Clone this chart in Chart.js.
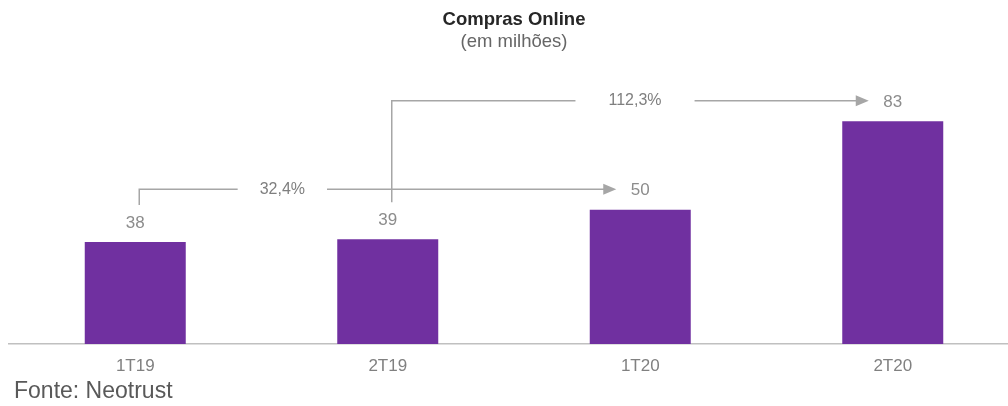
<!DOCTYPE html>
<html>
<head>
<meta charset="utf-8">
<script src="https://cdn.jsdelivr.net/npm/chart.js@4/dist/chart.umd.min.js"></script>
<style>
  html, body { margin: 0; padding: 0; background: #fff; overflow: hidden; width: 1008px; height: 406px; }
  #wrap { width: 1020px; height: 406px; position: relative; }
</style>
</head>
<body>
<div id="wrap"><canvas id="c"></canvas></div>
<script>
// ---- data ----
const categories = ['1T19', '2T19', '1T20', '2T20'];
const values = [38, 39, 50, 83];
const growthFrom = [0, 1];
const growthTo = [2, 3];
const growthLabels = ['32,4%', '112,3%'];
const titleText = 'Compras Online';
const subtitleText = '(em milhões)';
const sourceText = 'Fonte: Neotrust';

// ---- styles ----
const FONT = "'Liberation Sans', Arial, Helvetica, sans-serif";
const BAR_COLOR = '#7030A0';
const LINE_COLOR = '#a6a6a6';
const growthStyle = [
  { labelFrac: 0.30, gapPad: 22 },
  { labelFrac: 0.51, gapPad: 33 }
];

const annotationsPlugin = {
  id: 'annotations',
  afterDatasetsDraw(chart) {
    const ctx = chart.ctx;
    const meta = chart.getDatasetMeta(0);
    ctx.save();
    // value labels
    ctx.font = '17px ' + FONT;
    ctx.fillStyle = '#8c8c8c';
    ctx.textAlign = 'center';
    ctx.textBaseline = 'middle';
    meta.data.forEach((bar, i) => {
      ctx.fillText(String(values[i]), bar.x, bar.y - 19);
    });
    // growth arrows
    growthFrom.forEach((f, k) => {
      const a = meta.data[f], b = meta.data[growthTo[k]];
      const x0 = a.x + 4;
      const yBottom = a.y - 19 - 18;
      const yLine = b.y - 19 - 1.5;
      const xTip = b.x - 24;
      const st = growthStyle[k];
      ctx.font = '16px ' + FONT;
      const w = ctx.measureText(growthLabels[k]).width;
      const xt = x0 + st.labelFrac * (xTip - x0);
      const g0 = xt - w / 2 - st.gapPad, g1 = xt + w / 2 + st.gapPad;
      ctx.strokeStyle = LINE_COLOR;
      ctx.lineWidth = 1.5;
      ctx.beginPath();
      ctx.moveTo(x0, yBottom);
      ctx.lineTo(x0, yLine);
      ctx.lineTo(g0, yLine);
      ctx.moveTo(g1, yLine);
      ctx.lineTo(xTip - 10, yLine);
      ctx.stroke();
      ctx.fillStyle = LINE_COLOR;
      ctx.beginPath();
      ctx.moveTo(xTip, yLine);
      ctx.lineTo(xTip - 13, yLine - 5.5);
      ctx.lineTo(xTip - 13, yLine + 5.5);
      ctx.closePath();
      ctx.fill();
      ctx.fillStyle = '#7f7f7f';
      ctx.textAlign = 'center';
      ctx.textBaseline = 'middle';
      ctx.fillText(growthLabels[k], xt, yLine);
    });
    ctx.restore();
  },
  afterDraw(chart) {
    const ctx = chart.ctx;
    const ca = chart.chartArea;
    const cx = (ca.left + ca.right) / 2;
    ctx.save();
    ctx.textAlign = 'center';
    ctx.textBaseline = 'middle';
    ctx.font = 'bold 18.5px ' + FONT;
    ctx.fillStyle = '#262626';
    ctx.fillText(titleText, cx, 20);
    ctx.font = '18.5px ' + FONT;
    ctx.fillStyle = '#666666';
    ctx.fillText(subtitleText, cx, 42);
    ctx.textAlign = 'left';
    ctx.textBaseline = 'alphabetic';
    ctx.font = '23px ' + FONT;
    ctx.fillStyle = '#595959';
    ctx.fillText(sourceText, 14, 398);
    ctx.restore();
  }
};

new Chart(document.getElementById('c'), {
  type: 'bar',
  data: {
    labels: categories,
    datasets: [{
      data: values,
      backgroundColor: BAR_COLOR,
      borderWidth: 0,
      barPercentage: 0.4,
      categoryPercentage: 1.0
    }]
  },
  options: {
    responsive: true,
    maintainAspectRatio: false,
    animation: false,
    layout: { padding: { top: 75.5, left: 9, right: 1, bottom: 22 } },
    plugins: {
      legend: { display: false },
      tooltip: { enabled: false },
      title: { display: false }
    },
    scales: {
      x: {
        offset: true,
        grid: { display: false, drawTicks: false },
        border: { display: true, color: '#c0c0c0', width: 1.5 },
        ticks: {
          color: '#808080',
          font: { family: FONT, size: 17 },
          padding: 12,
          maxRotation: 0
        },
        afterFit(scale) { scale.height = 40; }
      },
      y: {
        display: false,
        min: 0,
        max: 100
      }
    }
  },
  plugins: [annotationsPlugin]
});
</script>
</body>
</html>
